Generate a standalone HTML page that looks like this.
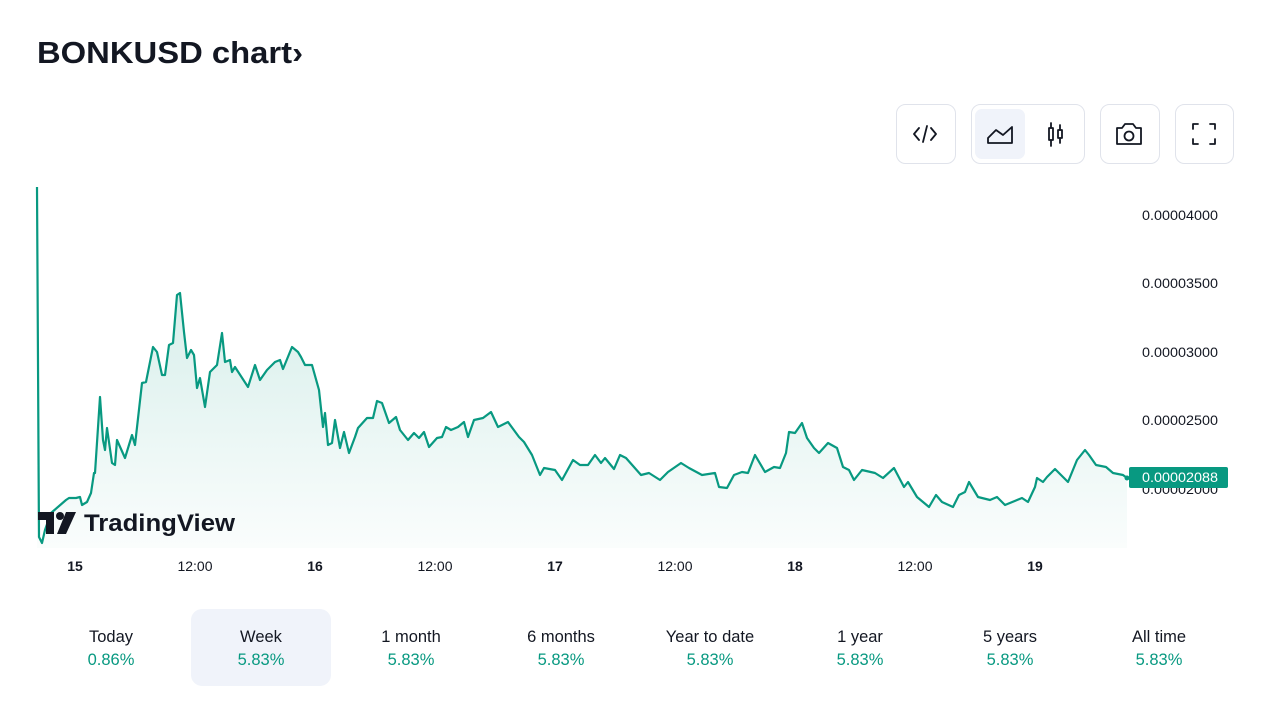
<!DOCTYPE html>
<html><head><meta charset="utf-8"><style>
html,body{margin:0;padding:0;background:#fff;}
svg{display:block;font-family:"Liberation Sans",sans-serif;}
</style></head><body>
<svg width="1280" height="720" viewBox="0 0 1280 720" xmlns="http://www.w3.org/2000/svg">
<defs>
<linearGradient id="g" gradientUnits="userSpaceOnUse" x1="0" y1="290" x2="0" y2="548">
<stop offset="0" stop-color="#089981" stop-opacity="0.16"/>
<stop offset="1" stop-color="#089981" stop-opacity="0.02"/>
</linearGradient>
</defs>
<rect width="1280" height="720" fill="#fff"/>
<text x="37" y="63" font-size="31" font-weight="bold" fill="#131722" textLength="266" lengthAdjust="spacingAndGlyphs">BONKUSD chart›</text>

<g fill="none" stroke="#e0e3eb" stroke-width="1">
<rect x="896.5" y="104.5" width="59" height="59" rx="9"/>
<rect x="971.5" y="104.5" width="113" height="59" rx="9"/>
<rect x="1100.5" y="104.5" width="59" height="59" rx="9"/>
<rect x="1175.5" y="104.5" width="58" height="59" rx="9"/>
</g>
<rect x="975" y="109" width="50" height="50" rx="7" fill="#f0f3fa"/>
<g fill="none" stroke="#131722" stroke-width="1.8" stroke-linecap="round" stroke-linejoin="round">
<path d="M919 128 L914 134 L919 140 M931 128 L936 134 L931 140 M927 126 L923 142"/>
<path d="M988 143 L988 138 L996 130 L1003 135 L1012 127 L1012 143 Z"/>
<rect x="1049" y="128" width="4" height="12"/><path d="M1051 123 V128 M1051 140 V146"/>
<rect x="1058" y="130" width="4" height="8"/><path d="M1060 125 V130 M1060 138 V143"/>
<path d="M1117 128 H1122 L1125 124 H1133 L1136 128 H1141 V144 H1117 Z"/><circle cx="1129" cy="136" r="4.5"/>
<path d="M1193 129 V124 H1198 M1210 124 H1215 V129 M1215 139 V144 H1210 M1198 144 H1193 V139"/>
</g>

<path fill="url(#g)" d="M37,187 L39,537 L42,543 L45,530 L51,513 L66,500 L69,498 L76,498 L80,497 L82,505 L87,502 L91,493 L94,473 L95,473 L100,397 L103,440 L105,450 L107,428 L112,463 L115,465 L117,440 L125,458 L132,435 L135,445 L142,383 L146,382 L153,347 L157,352 L162,375 L165,375 L169,345 L173,343 L177,295 L180,293 L184,332 L187,358 L191,350 L194,355 L197,388 L200,378 L205,407 L210,372 L214,368 L217,365 L222,333 L225,362 L230,360 L232,372 L235,367 L248,387 L255,365 L260,380 L267,370 L275,362 L280,360 L283,369 L292,347 L298,352 L301,357 L305,365 L312,365 L319,390 L323,427 L325,413 L328,445 L332,443 L335,420 L340,448 L344,432 L349,453 L355,437 L358,428 L367,418 L373,418 L377,401 L382,403 L389,423 L396,417 L400,430 L408,440 L414,433 L419,438 L424,432 L429,447 L437,438 L442,437 L446,427 L451,430 L458,427 L464,422 L468,437 L474,420 L483,418 L491,412 L498,427 L508,422 L519,437 L524,442 L532,455 L540,475 L544,468 L555,470 L562,480 L573,460 L580,465 L588,465 L595,455 L601,463 L605,458 L614,469 L620,455 L626,458 L641,475 L649,473 L660,480 L668,472 L681,463 L689,468 L702,475 L715,473 L719,487 L727,488 L734,475 L742,472 L748,473 L755,455 L765,472 L774,467 L780,468 L786,453 L789,432 L795,433 L802,423 L807,438 L814,448 L819,453 L828,443 L837,448 L843,467 L849,470 L854,480 L862,470 L875,473 L883,478 L894,468 L904,487 L908,482 L917,497 L929,507 L936,495 L942,502 L953,507 L959,495 L965,492 L969,482 L978,497 L990,500 L997,497 L1005,505 L1022,498 L1028,502 L1035,487 L1037,478 L1043,482 L1047,477 L1055,469 L1068,482 L1077,460 L1085,450 L1089,455 L1096,465 L1106,467 L1113,473 L1123,475 L1127,478 L1127,548 L37,548 Z"/>
<path fill="none" stroke="#089981" stroke-width="2.2" stroke-linejoin="round" d="M37,187 L39,537 L42,543 L45,530 L51,513 L66,500 L69,498 L76,498 L80,497 L82,505 L87,502 L91,493 L94,473 L95,473 L100,397 L103,440 L105,450 L107,428 L112,463 L115,465 L117,440 L125,458 L132,435 L135,445 L142,383 L146,382 L153,347 L157,352 L162,375 L165,375 L169,345 L173,343 L177,295 L180,293 L184,332 L187,358 L191,350 L194,355 L197,388 L200,378 L205,407 L210,372 L214,368 L217,365 L222,333 L225,362 L230,360 L232,372 L235,367 L248,387 L255,365 L260,380 L267,370 L275,362 L280,360 L283,369 L292,347 L298,352 L301,357 L305,365 L312,365 L319,390 L323,427 L325,413 L328,445 L332,443 L335,420 L340,448 L344,432 L349,453 L355,437 L358,428 L367,418 L373,418 L377,401 L382,403 L389,423 L396,417 L400,430 L408,440 L414,433 L419,438 L424,432 L429,447 L437,438 L442,437 L446,427 L451,430 L458,427 L464,422 L468,437 L474,420 L483,418 L491,412 L498,427 L508,422 L519,437 L524,442 L532,455 L540,475 L544,468 L555,470 L562,480 L573,460 L580,465 L588,465 L595,455 L601,463 L605,458 L614,469 L620,455 L626,458 L641,475 L649,473 L660,480 L668,472 L681,463 L689,468 L702,475 L715,473 L719,487 L727,488 L734,475 L742,472 L748,473 L755,455 L765,472 L774,467 L780,468 L786,453 L789,432 L795,433 L802,423 L807,438 L814,448 L819,453 L828,443 L837,448 L843,467 L849,470 L854,480 L862,470 L875,473 L883,478 L894,468 L904,487 L908,482 L917,497 L929,507 L936,495 L942,502 L953,507 L959,495 L965,492 L969,482 L978,497 L990,500 L997,497 L1005,505 L1022,498 L1028,502 L1035,487 L1037,478 L1043,482 L1047,477 L1055,469 L1068,482 L1077,460 L1085,450 L1089,455 L1096,465 L1106,467 L1113,473 L1123,475 L1127,478"/>
<circle cx="1127" cy="478" r="2.5" fill="#089981"/>

<g fill="#131722">
<path d="M38 512 H54 V534 H46 V520 H38 Z"/>
<circle cx="60" cy="516" r="4"/>
<path d="M66 512 H76 L66 534 H57 Z"/>
</g>
<text x="84" y="531" font-size="24" font-weight="bold" fill="#131722" textLength="151" lengthAdjust="spacingAndGlyphs">TradingView</text>

<g font-size="13.5" fill="#131722">
<text x="1142" y="220" textLength="76" lengthAdjust="spacingAndGlyphs">0.00004000</text>
<text x="1142" y="288" textLength="76" lengthAdjust="spacingAndGlyphs">0.00003500</text>
<text x="1142" y="357" textLength="76" lengthAdjust="spacingAndGlyphs">0.00003000</text>
<text x="1142" y="425" textLength="76" lengthAdjust="spacingAndGlyphs">0.00002500</text>
<text x="1142" y="494" textLength="76" lengthAdjust="spacingAndGlyphs">0.00002000</text>
</g>
<rect x="1129" y="467" width="99" height="21" rx="2" fill="#089981"/>
<text x="1142" y="482" font-size="13.5" fill="#fff" textLength="76" lengthAdjust="spacingAndGlyphs">0.00002088</text>

<g font-size="14" fill="#131722" text-anchor="middle">
<text x="75" y="571" font-weight="bold">15</text>
<text x="195" y="571">12:00</text>
<text x="315" y="571" font-weight="bold">16</text>
<text x="435" y="571">12:00</text>
<text x="555" y="571" font-weight="bold">17</text>
<text x="675" y="571">12:00</text>
<text x="795" y="571" font-weight="bold">18</text>
<text x="915" y="571">12:00</text>
<text x="1035" y="571" font-weight="bold">19</text>
</g>

<rect x="191" y="609" width="140" height="77" rx="11" fill="#f0f3fa"/>
<g font-size="16.5" text-anchor="middle">
<g fill="#131722">
<text x="111" y="642">Today</text>
<text x="261" y="642">Week</text>
<text x="411" y="642">1 month</text>
<text x="561" y="642">6 months</text>
<text x="710" y="642">Year to date</text>
<text x="860" y="642">1 year</text>
<text x="1010" y="642">5 years</text>
<text x="1159" y="642">All time</text>
</g>
<g fill="#089981">
<text x="111" y="665">0.86%</text>
<text x="261" y="665">5.83%</text>
<text x="411" y="665">5.83%</text>
<text x="561" y="665">5.83%</text>
<text x="710" y="665">5.83%</text>
<text x="860" y="665">5.83%</text>
<text x="1010" y="665">5.83%</text>
<text x="1159" y="665">5.83%</text>
</g>
</g>
</svg>
</body></html>
